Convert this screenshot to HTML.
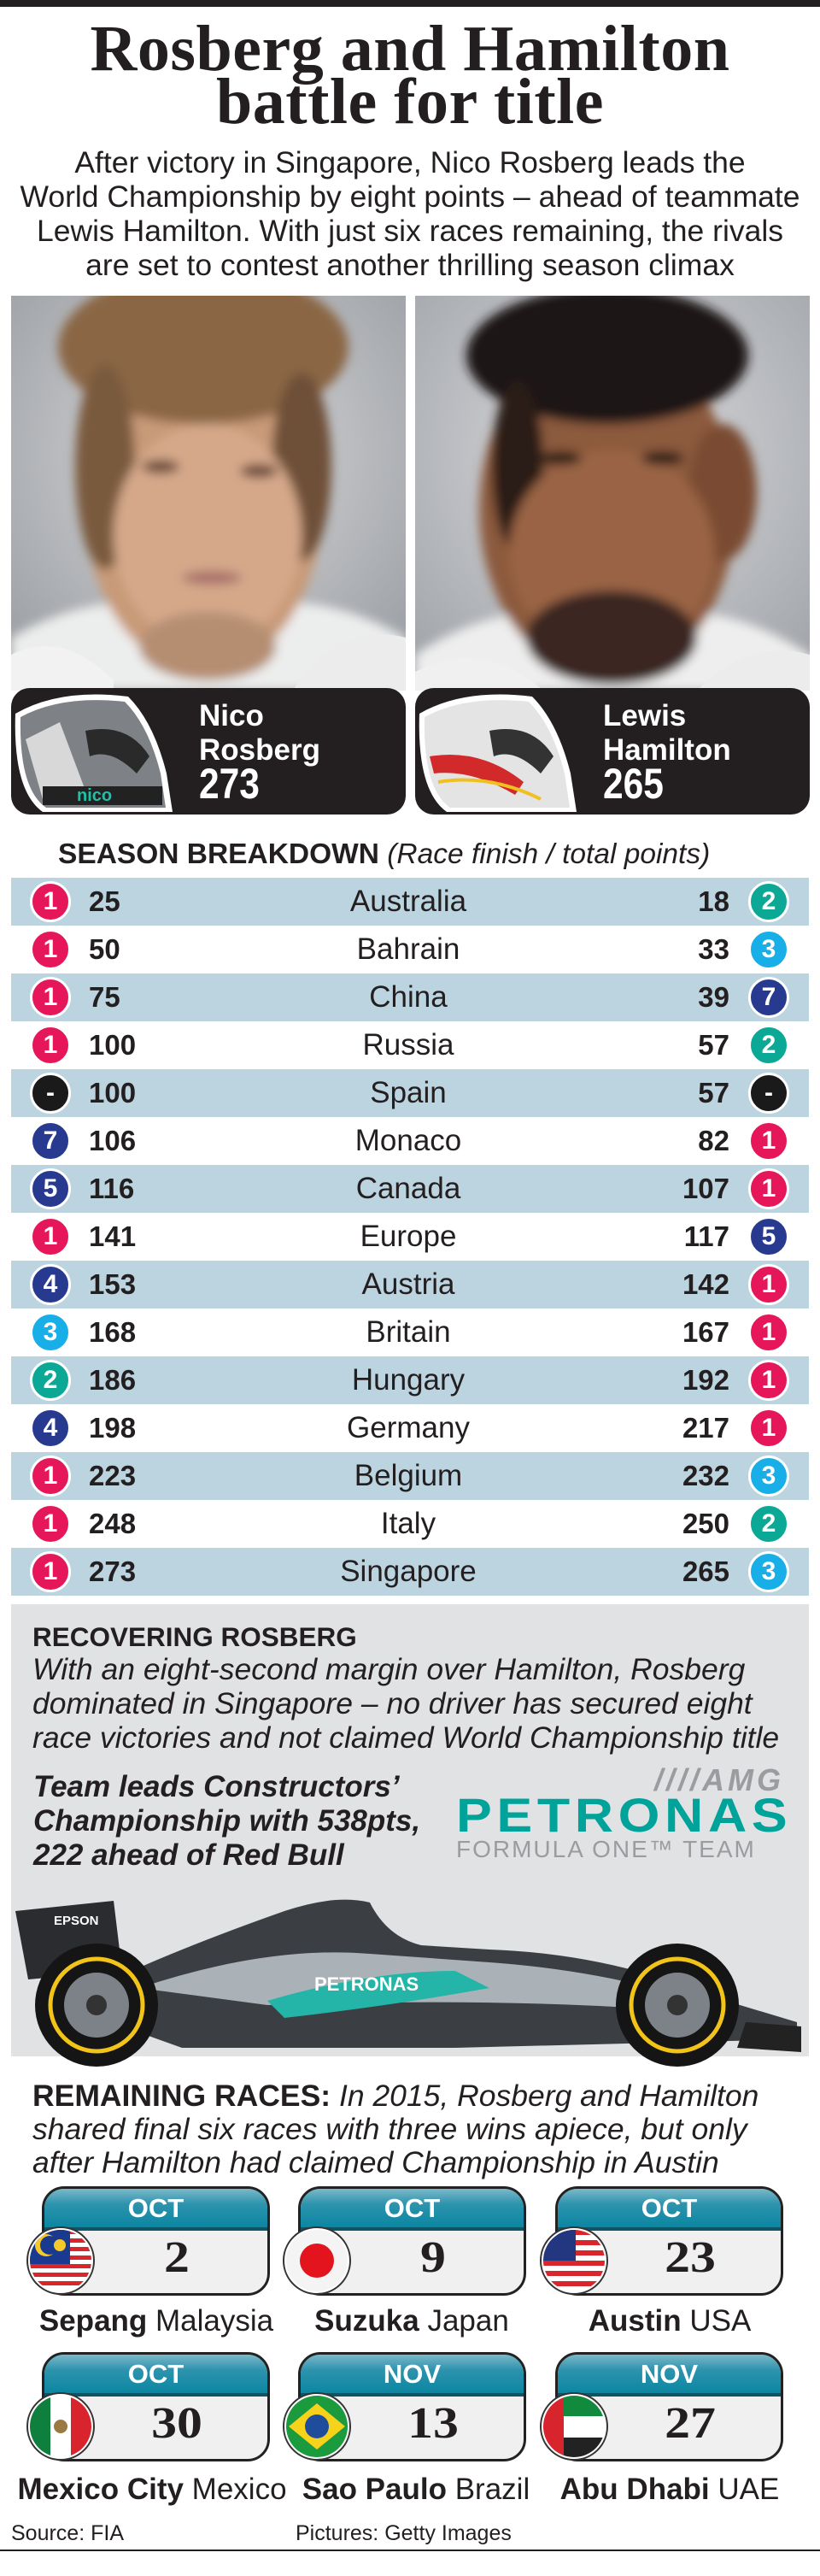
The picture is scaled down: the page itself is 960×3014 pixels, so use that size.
<!DOCTYPE html>
<html><head><meta charset="utf-8">
<style>
*{margin:0;padding:0;box-sizing:border-box}
body{width:960px;height:3014px;background:#fff;position:relative;overflow:hidden;font-family:"Liberation Sans",Arial,sans-serif;color:#231f20}
.a{position:absolute}
.title{left:0;width:960px;text-align:center;font-family:"Liberation Serif",serif;font-weight:bold;font-size:76px;line-height:62px;letter-spacing:0.5px}
.sub{left:0;width:960px;text-align:center;font-size:35.5px;line-height:40px;white-space:nowrap}
.box{background:#231f20;border-radius:22px}
.nm{color:#fff;font-weight:bold;font-size:35px;line-height:40px}
.sc{color:#fff;font-weight:bold;font-size:50px;transform:scaleX(.85);transform-origin:left}
.row{left:13px;width:934px;height:56px}
.row.s{background:#bcd4df}
.c{position:absolute;width:48px;height:48px;border-radius:50%;border:3px solid #fff;color:#fff;font-weight:bold;font-size:30px;line-height:42px;text-align:center;top:4px}
.ln{position:absolute;left:91px;font-weight:bold;font-size:33px;line-height:56px}
.rn{position:absolute;right:93px;font-weight:bold;font-size:33px;line-height:56px;text-align:right}
.ct{position:absolute;left:0;width:930px;text-align:center;font-size:35px;line-height:56px}
.card{width:267px;height:128px;border:3px solid #222;border-radius:26px;overflow:hidden;background:linear-gradient(#8a9aa4,#d8dcdf 14px,#f0f0f0 30px)}
.hd{height:49px;background:linear-gradient(#7ab8c9,#2d93ad 40%,#0b86a2);border-bottom:4px solid #0b5566;color:#fff;font-weight:bold;font-size:31px;text-align:center;line-height:46px}
.day{position:absolute;font-family:"Liberation Serif",serif;font-weight:bold;font-size:52px;width:160px;text-align:center;transform:scaleX(1.15)}
.lab{position:absolute;width:340px;text-align:center;font-size:35px;line-height:38px;white-space:nowrap}
</style></head><body>
<div class="a" style="left:0;top:0;width:960px;height:8px;background:#231f20"></div>
<div class="a title" style="top:26px">Rosberg and Hamilton</div>
<div class="a title" style="top:88px">battle for title</div>
<div class="a sub" style="top:170px">After victory in Singapore, Nico Rosberg leads the<br>World Championship by eight points – ahead of teammate<br>Lewis Hamilton. With just six races remaining, the rivals<br>are set to contest another thrilling season climax</div>

<!-- photos -->
<svg class="a" style="left:13px;top:346px" width="462" height="462" viewBox="0 0 462 462">
<defs><radialGradient id="bg1" cx="50%" cy="40%" r="70%"><stop offset="0" stop-color="#dadbdd"/><stop offset="1" stop-color="#9c9fa4"/></radialGradient>
<filter id="bl"><feGaussianBlur stdDeviation="6"/></filter></defs>
<rect width="462" height="462" fill="url(#bg1)"/>
<g filter="url(#bl)">
<path d="M0 400 Q120 330 230 380 Q340 330 462 400 L462 462 L0 462Z" fill="#eceded"/>
<ellipse cx="225" cy="240" rx="140" ry="200" fill="#c89a78"/>
<ellipse cx="225" cy="60" rx="170" ry="90" fill="#8a6645"/>
<ellipse cx="110" cy="200" rx="35" ry="120" fill="#7a5a3e"/>
<ellipse cx="340" cy="200" rx="35" ry="110" fill="#6e5038"/>
<ellipse cx="230" cy="280" rx="110" ry="130" fill="#d5a88a"/>
<ellipse cx="175" cy="200" rx="22" ry="8" fill="#6a4a38"/>
<ellipse cx="290" cy="205" rx="22" ry="8" fill="#6a4a38"/>
<ellipse cx="235" cy="330" rx="35" ry="8" fill="#a8706a"/>
<ellipse cx="230" cy="410" rx="80" ry="40" fill="#b58e72"/>
</g>
<path d="M0 420 Q60 390 120 450 L120 462 L0 462Z" fill="#f2f2f2"/>
<path d="M462 400 Q380 380 330 462 L462 462Z" fill="#ececec"/>
</svg>
<svg class="a" style="left:486px;top:346px" width="462" height="462" viewBox="0 0 462 462">
<defs><radialGradient id="bg2" cx="50%" cy="40%" r="70%"><stop offset="0" stop-color="#dcdde0"/><stop offset="1" stop-color="#a3a6ab"/></radialGradient></defs>
<rect width="462" height="462" fill="url(#bg2)"/>
<g filter="url(#bl)">
<path d="M0 420 Q120 340 230 390 Q340 340 462 420 L462 462 L0 462Z" fill="#eeeeee"/>
<ellipse cx="225" cy="250" rx="150" ry="200" fill="#8c5a3c"/>
<ellipse cx="225" cy="70" rx="165" ry="80" fill="#1e1614"/>
<ellipse cx="120" cy="200" rx="30" ry="100" fill="#2a1c16"/>
<ellipse cx="360" cy="230" rx="40" ry="80" fill="#7a4c32"/>
<ellipse cx="230" cy="300" rx="120" ry="120" fill="#9a6444"/>
<ellipse cx="170" cy="190" rx="25" ry="8" fill="#2a1a14"/>
<ellipse cx="290" cy="190" rx="25" ry="8" fill="#2a1a14"/>
<ellipse cx="230" cy="400" rx="100" ry="55" fill="#3a2820"/>
</g>
<path d="M0 440 Q80 400 150 462 L0 462Z" fill="#f0f0f0"/>
<path d="M462 420 Q390 400 330 462 L462 462Z" fill="#ececec"/>
</svg>

<!-- name boxes -->
<div class="a box" style="left:13px;top:805px;width:462px;height:148px"></div>
<div class="a box" style="left:486px;top:805px;width:462px;height:148px"></div>
<svg class="a" style="left:10px;top:805px" width="200" height="148" viewBox="0 0 200 148">
<path d="M8 30 Q60 0 140 10 Q170 40 185 100 L192 145 L40 145 Q5 120 8 30Z" fill="#fff"/>
<path d="M14 34 Q62 8 136 16 Q164 44 178 100 L184 140 L44 140 Q12 118 14 34Z" fill="#7e8287"/>
<path d="M20 60 L60 40 L90 120 L40 130Z" fill="#d8d8d8"/>
<path d="M90 50 Q140 40 165 80 L150 100 Q120 70 95 80Z" fill="#2a2a2a"/>
<rect x="40" y="115" width="140" height="22" fill="#222"/>
<text x="80" y="132" font-family="Liberation Sans" font-size="20" fill="#20c0a8" font-weight="bold">nico</text>
</svg>
<svg class="a" style="left:483px;top:805px" width="200" height="148" viewBox="0 0 200 148">
<path d="M8 30 Q60 0 140 10 Q170 40 185 100 L192 145 L40 145 Q5 120 8 30Z" fill="#fff"/>
<path d="M14 34 Q62 8 136 16 Q164 44 178 100 L184 140 L44 140 Q12 118 14 34Z" fill="#e4e4e4"/>
<path d="M20 80 Q80 70 130 110 L120 125 Q70 95 25 100Z" fill="#d22a2a"/>
<path d="M90 50 Q140 40 165 80 L150 100 Q120 70 95 80Z" fill="#333"/>
<path d="M30 110 Q90 100 150 130" stroke="#f0c020" stroke-width="4" fill="none"/>
</svg>
<div class="a nm" style="left:233px;top:818px">Nico<br>Rosberg</div>
<div class="a sc" style="left:233px;top:890px;line-height:54px">273</div>
<div class="a nm" style="left:706px;top:818px">Lewis<br>Hamilton</div>
<div class="a sc" style="left:706px;top:890px;line-height:54px">265</div>

<div class="a" style="left:68px;top:982px;font-size:33.5px;line-height:36px;white-space:nowrap"><b>SEASON BREAKDOWN</b> <i>(Race finish / total points)</i></div>

<div class="a" style="left:0;top:1027px">
<div class="a row s" style="top:0"><div class="c" style="left:22px;background:#e5175a">1</div><div class="ln">25</div><div class="ct">Australia</div><div class="rn">18</div><div class="c" style="left:863px;background:#0ba896">2</div></div>
<div class="a row" style="top:56px"><div class="c" style="left:22px;background:#e5175a">1</div><div class="ln">50</div><div class="ct">Bahrain</div><div class="rn">33</div><div class="c" style="left:863px;background:#18aee8">3</div></div>
<div class="a row s" style="top:112px"><div class="c" style="left:22px;background:#e5175a">1</div><div class="ln">75</div><div class="ct">China</div><div class="rn">39</div><div class="c" style="left:863px;background:#273a8f">7</div></div>
<div class="a row" style="top:168px"><div class="c" style="left:22px;background:#e5175a">1</div><div class="ln">100</div><div class="ct">Russia</div><div class="rn">57</div><div class="c" style="left:863px;background:#0ba896">2</div></div>
<div class="a row s" style="top:224px"><div class="c" style="left:22px;background:#1a1a1a">-</div><div class="ln">100</div><div class="ct">Spain</div><div class="rn">57</div><div class="c" style="left:863px;background:#1a1a1a">-</div></div>
<div class="a row" style="top:280px"><div class="c" style="left:22px;background:#273a8f">7</div><div class="ln">106</div><div class="ct">Monaco</div><div class="rn">82</div><div class="c" style="left:863px;background:#e5175a">1</div></div>
<div class="a row s" style="top:336px"><div class="c" style="left:22px;background:#273a8f">5</div><div class="ln">116</div><div class="ct">Canada</div><div class="rn">107</div><div class="c" style="left:863px;background:#e5175a">1</div></div>
<div class="a row" style="top:392px"><div class="c" style="left:22px;background:#e5175a">1</div><div class="ln">141</div><div class="ct">Europe</div><div class="rn">117</div><div class="c" style="left:863px;background:#273a8f">5</div></div>
<div class="a row s" style="top:448px"><div class="c" style="left:22px;background:#273a8f">4</div><div class="ln">153</div><div class="ct">Austria</div><div class="rn">142</div><div class="c" style="left:863px;background:#e5175a">1</div></div>
<div class="a row" style="top:504px"><div class="c" style="left:22px;background:#18aee8">3</div><div class="ln">168</div><div class="ct">Britain</div><div class="rn">167</div><div class="c" style="left:863px;background:#e5175a">1</div></div>
<div class="a row s" style="top:560px"><div class="c" style="left:22px;background:#0ba896">2</div><div class="ln">186</div><div class="ct">Hungary</div><div class="rn">192</div><div class="c" style="left:863px;background:#e5175a">1</div></div>
<div class="a row" style="top:616px"><div class="c" style="left:22px;background:#273a8f">4</div><div class="ln">198</div><div class="ct">Germany</div><div class="rn">217</div><div class="c" style="left:863px;background:#e5175a">1</div></div>
<div class="a row s" style="top:672px"><div class="c" style="left:22px;background:#e5175a">1</div><div class="ln">223</div><div class="ct">Belgium</div><div class="rn">232</div><div class="c" style="left:863px;background:#18aee8">3</div></div>
<div class="a row" style="top:728px"><div class="c" style="left:22px;background:#e5175a">1</div><div class="ln">248</div><div class="ct">Italy</div><div class="rn">250</div><div class="c" style="left:863px;background:#0ba896">2</div></div>
<div class="a row s" style="top:784px"><div class="c" style="left:22px;background:#e5175a">1</div><div class="ln">273</div><div class="ct">Singapore</div><div class="rn">265</div><div class="c" style="left:863px;background:#18aee8">3</div></div>
</div>

<!-- grey box -->
<div class="a" style="left:13px;top:1877px;width:934px;height:529px;background:#e1e2e4"></div>
<div class="a" style="left:38px;top:1898px;font-size:31.5px;font-weight:bold;line-height:34px;white-space:nowrap">RECOVERING ROSBERG</div>
<div class="a" style="left:38px;top:1933px;font-size:35.5px;font-style:italic;line-height:40px;white-space:nowrap">With an eight-second margin over Hamilton, Rosberg<br>dominated in Singapore – no driver has secured eight<br>race victories and not claimed World Championship title</div>
<div class="a" style="left:39px;top:2071px;font-size:35px;font-style:italic;font-weight:bold;line-height:40px;white-space:nowrap">Team leads Constructors’<br>Championship with 538pts,<br>222 ahead of Red Bull</div>
<div class="a" style="left:677px;top:2068px;width:241px;height:30px;font-size:36px;font-weight:bold;font-style:italic;color:#9a9ca0;text-align:right;line-height:30px;letter-spacing:4px">////AMG</div>
<div class="a" style="left:534px;top:2098px;font-size:56px;font-weight:bold;color:#00a39a;line-height:52px;letter-spacing:5px;white-space:nowrap;transform:scaleX(1.12);transform-origin:left">PETRONAS</div>
<div class="a" style="left:534px;top:2150px;font-size:28px;color:#9a9ca0;line-height:28px;letter-spacing:2px;white-space:nowrap">FORMULA ONE™ TEAM</div>

<!-- car -->
<svg class="a" style="left:13px;top:2196px" width="935" height="224" viewBox="0 0 935 224">
<path d="M5 40 L120 28 L130 110 L20 120Z" fill="#2a2c30"/>
<text x="50" y="56" font-family="Liberation Sans" font-size="15" fill="#fff" font-weight="bold">EPSON</text>
<path d="M60 150 Q150 100 320 40 Q380 20 420 30 Q440 70 480 80 L560 85 Q700 90 820 140 L920 170 L920 190 L520 200 L200 200Z" fill="#3b3f44"/>
<path d="M150 130 Q300 80 420 90 L560 100 Q700 110 820 150 L820 160 Q600 140 300 150Z" fill="#aab2b8"/>
<path d="M300 145 Q420 110 520 110 L560 130 Q450 150 320 165Z" fill="#24b5a8"/>
<text x="355" y="133" font-family="Liberation Sans" font-size="22" font-weight="bold" fill="#fff">PETRONAS</text>
<circle cx="100" cy="150" r="72" fill="#151515"/><circle cx="100" cy="150" r="54" fill="none" stroke="#f2c318" stroke-width="5"/><circle cx="100" cy="150" r="38" fill="#7d8288"/><circle cx="100" cy="150" r="12" fill="#333"/>
<circle cx="780" cy="150" r="72" fill="#151515"/><circle cx="780" cy="150" r="54" fill="none" stroke="#f2c318" stroke-width="5"/><circle cx="780" cy="150" r="38" fill="#7d8288"/><circle cx="780" cy="150" r="12" fill="#333"/>
<path d="M860 170 L925 175 L925 205 L850 200Z" fill="#222"/>
</svg>

<div class="a" style="left:38px;top:2433px;font-size:35.5px;line-height:39px;white-space:nowrap"><b>REMAINING RACES:</b> <i>In 2015, Rosberg and Hamilton<br>shared final six races with three wins apiece, but only<br>after Hamilton had claimed Championship in Austin</i></div>

<!-- cards -->
<div class="a card" style="left:49px;top:2558px"><div class="hd">OCT</div></div>
<div class="a card" style="left:349px;top:2558px"><div class="hd">OCT</div></div>
<div class="a card" style="left:650px;top:2558px"><div class="hd">OCT</div></div>
<div class="a card" style="left:49px;top:2752px"><div class="hd">OCT</div></div>
<div class="a card" style="left:349px;top:2752px"><div class="hd">NOV</div></div>
<div class="a card" style="left:650px;top:2752px"><div class="hd">NOV</div></div>

<div class="a day" style="left:127px;top:2612px">2</div>
<div class="a day" style="left:427px;top:2612px">9</div>
<div class="a day" style="left:728px;top:2612px">23</div>
<div class="a day" style="left:127px;top:2806px">30</div>
<div class="a day" style="left:427px;top:2806px">13</div>
<div class="a day" style="left:728px;top:2806px">27</div>

<svg class="a" style="left:0;top:0" width="960" height="3014" viewBox="0 0 960 3014">
<defs>
<clipPath id="f1"><circle cx="71" cy="2645" r="36"/></clipPath>
<clipPath id="f2"><circle cx="371" cy="2645" r="36"/></clipPath>
<clipPath id="f3"><circle cx="672" cy="2645" r="36"/></clipPath>
<clipPath id="f4"><circle cx="71" cy="2839" r="36"/></clipPath>
<clipPath id="f5"><circle cx="371" cy="2839" r="36"/></clipPath>
<clipPath id="f6"><circle cx="672" cy="2839" r="36"/></clipPath>
</defs>
<g fill="#fff" stroke="#333" stroke-width="2">
<circle cx="71" cy="2645" r="39"/><circle cx="371" cy="2645" r="39"/><circle cx="672" cy="2645" r="39"/>
<circle cx="71" cy="2839" r="39"/><circle cx="371" cy="2839" r="39"/><circle cx="672" cy="2839" r="39"/>
</g>
<g clip-path="url(#f1)"><rect x="30" y="2605" width="90" height="80" fill="#fff"/>
<g fill="#d9262c"><rect x="30" y="2609" width="90" height="5"/><rect x="30" y="2619" width="90" height="5"/><rect x="30" y="2629" width="90" height="5"/><rect x="30" y="2639" width="90" height="5"/><rect x="30" y="2649" width="90" height="5"/><rect x="30" y="2659" width="90" height="5"/><rect x="30" y="2669" width="90" height="5"/></g>
<rect x="30" y="2605" width="52" height="44" fill="#1a3a8f"/><circle cx="54" cy="2627" r="13" fill="#f7c82a"/><circle cx="58" cy="2627" r="11" fill="#1a3a8f"/><circle cx="70" cy="2627" r="7" fill="#f7c82a"/></g>
<g clip-path="url(#f2)"><rect x="330" y="2605" width="90" height="80" fill="#f4f4f4"/><circle cx="371" cy="2645" r="20" fill="#e3141d"/></g>
<g clip-path="url(#f3)"><rect x="630" y="2605" width="90" height="80" fill="#fff"/>
<g fill="#d9262c"><rect x="630" y="2609" width="90" height="6"/><rect x="630" y="2621" width="90" height="6"/><rect x="630" y="2633" width="90" height="6"/><rect x="630" y="2645" width="90" height="6"/><rect x="630" y="2657" width="90" height="6"/><rect x="630" y="2669" width="90" height="6"/></g>
<rect x="630" y="2605" width="44" height="40" fill="#22377f"/></g>
<g clip-path="url(#f4)"><rect x="30" y="2800" width="30" height="80" fill="#0e7f3c"/><rect x="59" y="2800" width="25" height="80" fill="#fff"/><rect x="83" y="2800" width="40" height="80" fill="#d8242c"/><circle cx="71" cy="2839" r="8" fill="#9a7a40"/></g>
<g clip-path="url(#f5)"><rect x="330" y="2800" width="90" height="80" fill="#1b9a3e"/><path d="M371 2812 L404 2839 L371 2866 L338 2839Z" fill="#f6d21a"/><circle cx="371" cy="2839" r="14" fill="#1f4d9c"/></g>
<g clip-path="url(#f6)"><rect x="630" y="2800" width="30" height="80" fill="#d8242c"/><rect x="660" y="2800" width="60" height="27" fill="#118a3e"/><rect x="660" y="2827" width="60" height="25" fill="#fff"/><rect x="660" y="2852" width="60" height="30" fill="#222"/></g>
</svg>

<div class="lab" style="left:13px;top:2697px"><b>Sepang</b> Malaysia</div>
<div class="lab" style="left:312px;top:2697px"><b>Suzuka</b> Japan</div>
<div class="lab" style="left:614px;top:2697px"><b>Austin</b> USA</div>
<div class="lab" style="left:8px;top:2894px"><b>Mexico City</b> Mexico</div>
<div class="lab" style="left:317px;top:2894px"><b>Sao Paulo</b> Brazil</div>
<div class="lab" style="left:614px;top:2894px"><b>Abu Dhabi</b> UAE</div>

<div class="a" style="left:13px;top:2950px;font-size:25px;line-height:28px">Source: FIA</div>
<div class="a" style="left:346px;top:2950px;font-size:25px;line-height:28px">Pictures: Getty Images</div>
<div class="a" style="left:0;top:2983px;width:960px;height:2px;background:#231f20"></div>
</body></html>
